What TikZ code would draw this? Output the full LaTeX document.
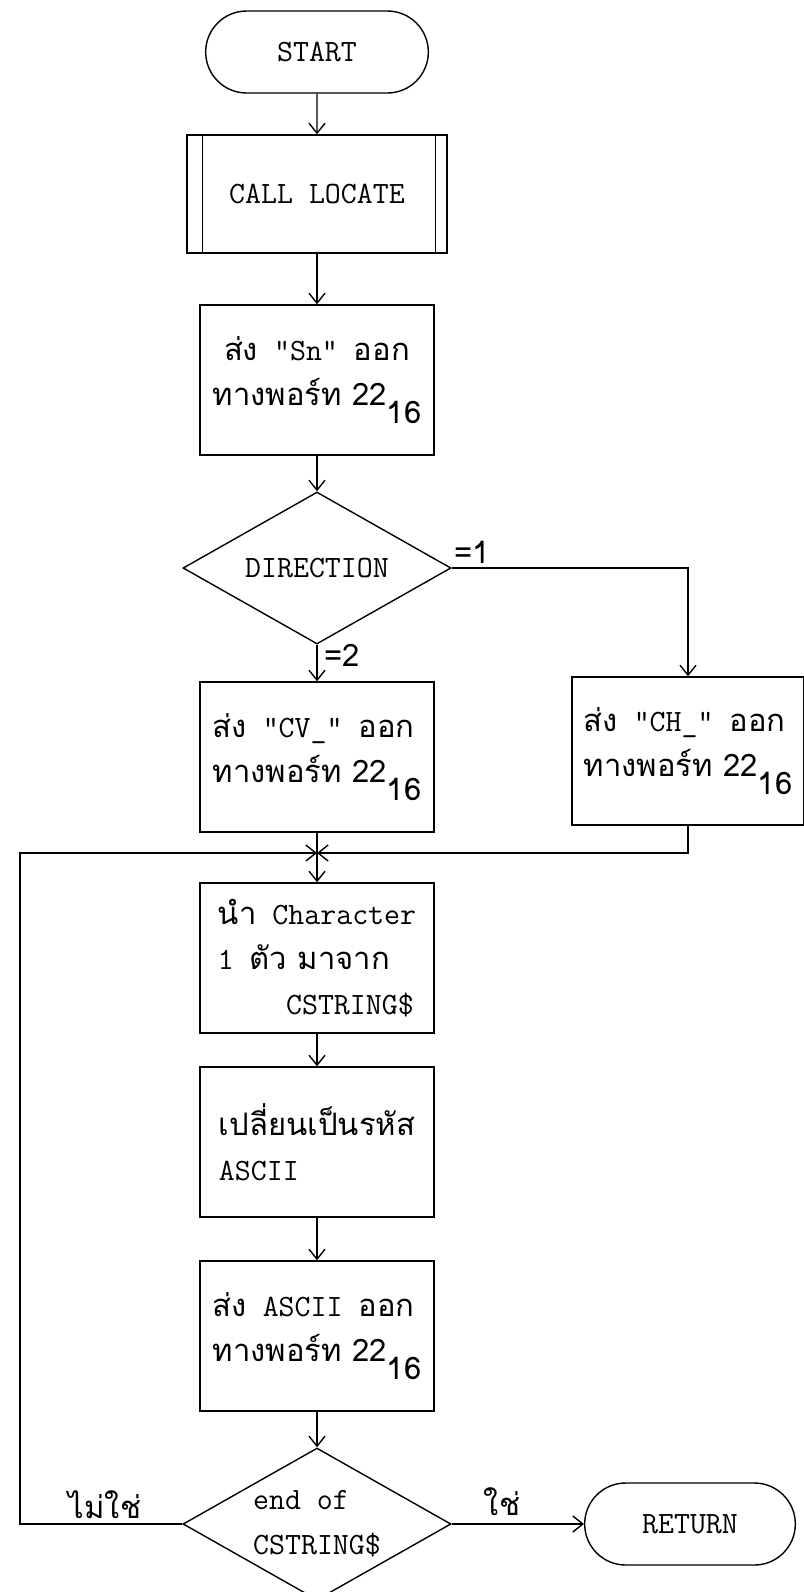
\documentclass[tikz,border=0pt]{standalone}
\usepackage{fontspec}
\newfontfamily\thai[Script=Thai]{Loma}
\usetikzlibrary{shapes.geometric,shapes.misc,arrows.meta}

\begin{document}
\begin{tikzpicture}[x=0.5pt, y=-0.5pt, line width=0.7pt,
    every node/.style={font=\fontsize{15.5}{22.5}\selectfont\ttfamily},
    term/.style={draw, rounded rectangle, minimum width=118pt, minimum height=41pt},
    proc/.style={draw, rectangle, minimum width=117pt, minimum height=75pt, align=left},
    dec/.style={draw, diamond, aspect=1.8, inner sep=0pt, minimum width=134pt, minimum height=76pt, align=left},
    arr/.style={-{Straight Barb[length=5pt,width=8pt]}}]
    \useasboundingbox (0,0) rectangle (804,1592);

    % Main column
    \node[term] (start) at (317,52) {START};
    \node[proc, minimum width=130pt, minimum height=59pt] (locate) at (317,194) {CALL LOCATE};
    \draw ([xshift=8pt]locate.north west) -- ([xshift=8pt]locate.south west);
    \draw ([xshift=-6pt]locate.north east) -- ([xshift=-6pt]locate.south east);
    \node[proc, align=center] (sn) at (317,380) {{\thai ส่ง} "Sn" {\thai ออก}\\{\thai ทางพอร์ท 22\raisebox{-0.6em}{16}}};
    \node[dec, align=center] (dir) at (317,568) {DIRECTION};

    % Two branches
    \node[proc] (cv) at (317,757) {{\thai ส่ง} "CV\_" {\thai ออก}\\{\thai ทางพอร์ท 22\raisebox{-0.6em}{16}}};
    \node[proc, minimum width=116pt, minimum height=74pt] (ch) at (688,751) {{\thai ส่ง} "CH\_" {\thai ออก}\\{\thai ทางพอร์ท 22\raisebox{-0.6em}{16}}};
    \coordinate (join) at (317,853);
    \coordinate (loopc) at (20,853);

    % Loop body
    \node[proc] (char) at (317,958) {{\thai นำ} Character\\1 {\thai ตัว มาจาก}\\\hspace{2.2em}CSTRING\$};
    \node[proc] (conv) at (317,1142) {{\thai เปลี่ยนเป็นรหัส}\\ASCII};
    \node[proc] (send) at (317,1336) {{\thai ส่ง} ASCII {\thai ออก}\\{\thai ทางพอร์ท 22\raisebox{-0.6em}{16}}};
    \node[dec] (endchk) at (317,1524) {end of\\CSTRING\$};
    \node[term, minimum width=112pt] (ret) at (690,1524) {RETURN};

    % Labels
    \node[font=\fontsize{15.5}{18}\selectfont\thai] (lone) at (472,552) {=1};
    \node[font=\fontsize{15.5}{18}\selectfont\thai] (ltwo) at (342,655) {=2};
    \node[font=\fontsize{15.5}{18}\selectfont\thai] (lno) at (105,1505) {ไม่ใช่};
    \node[font=\fontsize{15.5}{18}\selectfont\thai] (lyes) at (502,1502) {ใช่};

    % Connectors
    \draw[arr] (start) -- (locate);
    \draw[arr] (locate) -- (sn);
    \draw[arr] (sn) -- (dir);
    \draw[arr] (dir) -- (cv);
    \draw[arr] (dir.east) -| (ch.north);
    \draw (cv) -- (join);
    \draw[arr] (ch.south) |- (join);
    \draw[arr] (endchk.west) -| (loopc) -- (join);
    \draw[arr] (join) -- (char);
    \draw[arr] (char) -- (conv);
    \draw[arr] (conv) -- (send);
    \draw[arr] (send) -- (endchk);
    \draw[arr] (endchk.east) -- (ret.west);
\end{tikzpicture}
\end{document}
